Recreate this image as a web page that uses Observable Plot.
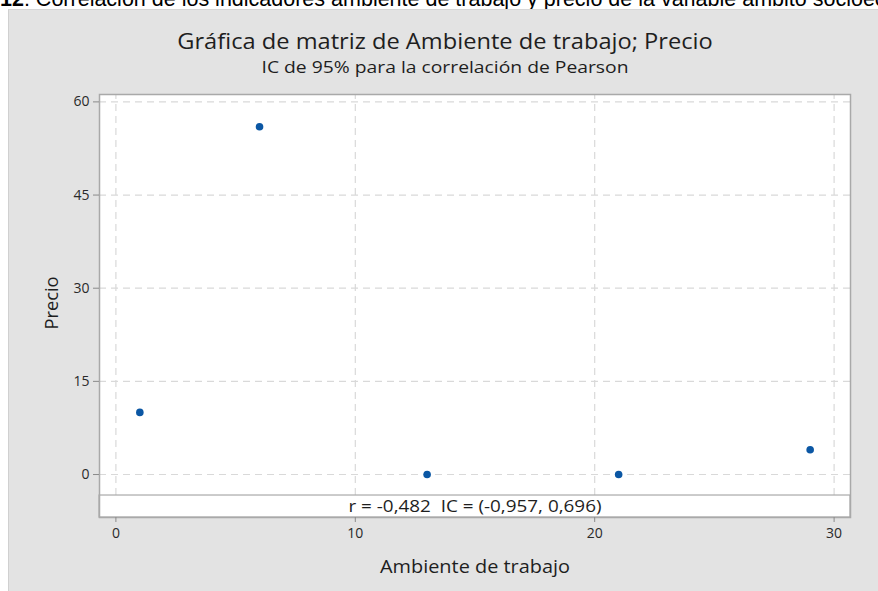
<!DOCTYPE html>
<html>
<head>
<meta charset="utf-8">
<script src="https://cdn.jsdelivr.net/npm/d3@7"></script>
<script src="https://cdn.jsdelivr.net/npm/@observablehq/plot@0.6"></script>
<style>
  body { margin: 0; background: #ffffff; }
  #wrap { position: relative; width: 878px; height: 591px; overflow: hidden; font-family: "Open Sans", sans-serif; }
  #cap { position: absolute; left: 0; top: 0; width: 878px; height: 9px; overflow: hidden; white-space: nowrap;
         font-family: "Liberation Sans", Arial, sans-serif; font-size: 21.5px; line-height: 21.5px; color: #000; }
  #cap span.t { position: relative; top: -10.7px; }
  #panel { position: absolute; left: 8px; top: 9px; width: 870px; height: 582px; background: #e3e3e3;
           border-left: 1px solid #d0d0d0; border-top: 1px solid #d6d6d6; box-sizing: border-box; }
  #title { position: absolute; left: 0; width: 890px; top: 30px; text-align: center; font-size: 21.5px; line-height: 21.5px;
           color: #1e1e1e; white-space: nowrap; transform: scaleX(1.1); transform-origin: 445px 50%; }
  #subtitle { position: absolute; left: 0; width: 890px; top: 59px; text-align: center; font-size: 16.8px; line-height: 16.8px;
           color: #1e1e1e; white-space: nowrap; transform: scaleX(1.15); transform-origin: 445px 50%; }
  #chart { position: absolute; left: 0; top: 0; }
</style>
</head>
<body>
<div id="wrap">
  <div id="cap"><span class="t"><b>12</b>: Correlación de los indicadores ambiente de trabajo y precio de la variable ámbito socioeconómico</span></div>
  <div id="panel"></div>
  <div id="title"></div>
  <div id="subtitle"></div>
  <div id="chart"></div>
</div>
<script>
// ---- data ----
const ambiente = [1, 6, 13, 21, 29];
const precio = [10, 56, 0, 0, 4];
const xTicks = [0, 10, 20, 30];
const yTicks = [0, 15, 30, 45, 60];
const titleText = "Gráfica de matriz de Ambiente de trabajo; Precio";
const subtitleText = "IC de 95% para la correlación de Pearson";
const xLabel = "Ambiente de trabajo";
const yLabel = "Precio";
const corrText = "r = -0,482  IC = (-0,957, 0,696)";

// ---- layout ----
const xDomain = [-0.685, 30.685];
const yDomain = [-6.92, 61.19];
const bandTop = -3.38;

document.getElementById("title").textContent = titleText;
document.getElementById("subtitle").textContent = subtitleText;

const data = ambiente.map((x, i) => ({x, y: precio[i]}));
const gridColor = "#d9d9d9";
const borderColor = "#a9a9a9";

const chart = Plot.plot({
  width: 878,
  height: 591,
  marginLeft: 99,
  marginRight: 28,
  marginTop: 94,
  marginBottom: 74,
  style: {background: "transparent", fontFamily: "'Open Sans', sans-serif", overflow: "visible"},
  x: {domain: xDomain, label: null},
  y: {domain: yDomain, label: null},
  marks: [
    Plot.frame({fill: "white", stroke: null}),
    Plot.ruleY(yTicks, {stroke: gridColor, strokeWidth: 1.2, strokeDasharray: "7,5"}),
    Plot.ruleX(xTicks, {y1: bandTop, y2: yDomain[1], stroke: gridColor, strokeWidth: 1.2, strokeDasharray: "7,5"}),
    Plot.rect([corrText], {x1: xDomain[0], x2: xDomain[1], y1: yDomain[0], y2: bandTop, fill: "white", stroke: borderColor, strokeWidth: 1.2}),
    Plot.text([corrText], {x: (xDomain[0] + xDomain[1]) / 2, y: (yDomain[0] + bandTop) / 2, text: d => d, fontSize: 17, fill: "#1e1e1e", className: "corr"}),
    Plot.dot(data, {x: "x", y: "y", r: 3.8, fill: "#0b57a4", stroke: null}),
    Plot.frame({stroke: borderColor, strokeWidth: 1.5}),
    Plot.axisX(xTicks, {tickSize: 5, tickPadding: 6, fontSize: 14, stroke: "#8a8a8a", fill: "#2a2a2a", label: null}),
    Plot.axisY(yTicks, {tickSize: 6, tickPadding: 4, fontSize: 14, stroke: "#8a8a8a", fill: "#2a2a2a", label: null}),
    Plot.text([xLabel], {frameAnchor: "bottom", dy: 50, lineAnchor: "middle", textAnchor: "middle", text: d => d, fontSize: 18.5, fill: "#1e1e1e", className: "xlab"}),
    Plot.text([yLabel], {frameAnchor: "left", dx: -47, dy: -3, rotate: -90, lineAnchor: "middle", textAnchor: "middle", text: d => d, fontSize: 18.5, fill: "#1e1e1e", className: "ylab"})
  ]
});
document.getElementById("chart").appendChild(chart);

// stretch a few labels horizontally to the widths seen in the reference
function stretch(cls, len) {
  chart.querySelectorAll("." + cls + " text").forEach(t => {
    t.setAttribute("textLength", len);
    t.setAttribute("lengthAdjust", "spacingAndGlyphs");
  });
}
stretch("corr", 253);
stretch("xlab", 190);
stretch("ylab", 53);
</script>
</body>
</html>
